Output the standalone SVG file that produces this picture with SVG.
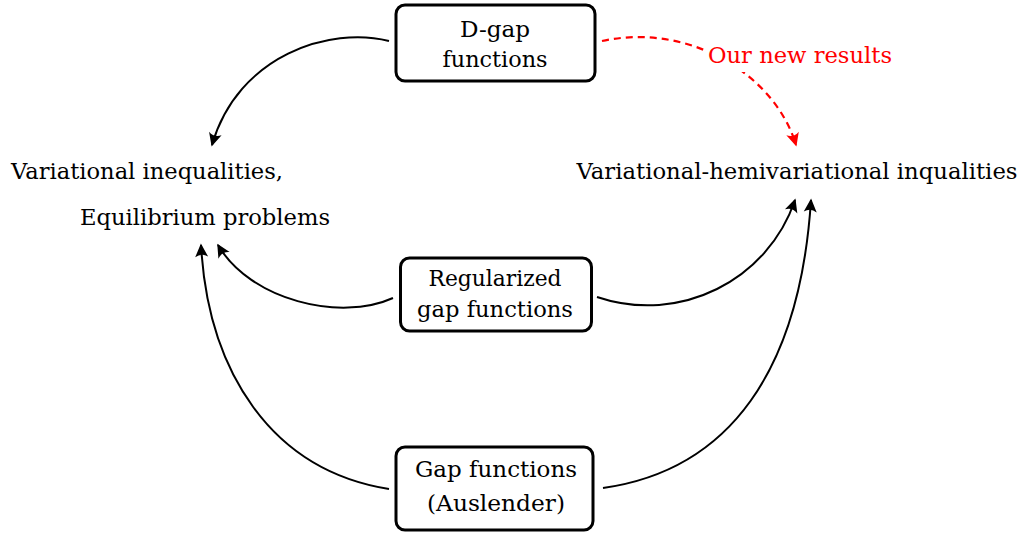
<svg xmlns="http://www.w3.org/2000/svg" width="1027" height="533" viewBox="0 0 1027 533">
<style>
text{font-family:'DejaVu Serif','Liberation Serif',serif;font-size:22px;fill:#000;text-anchor:middle}
.red{fill:#ff0000}
.box{fill:#fff;stroke:#000;stroke-width:3}
.con{fill:none;stroke:#000;stroke-width:2}
.dash{fill:none;stroke:#ff0000;stroke-width:2.2;stroke-dasharray:7 5}
</style>
<defs>
<marker id="ah" markerUnits="userSpaceOnUse" markerWidth="20" markerHeight="20" viewBox="-16 -10 20 20" refX="0" refY="0" orient="auto">
<path d="M1.5,0 L-12,-6.5 Q-7.5,0 -12,6.5 Z" fill="#000"/>
</marker>
<marker id="ahr" markerUnits="userSpaceOnUse" markerWidth="20" markerHeight="20" viewBox="-16 -10 20 20" refX="0" refY="0" orient="auto">
<path d="M1.5,0 L-12,-6.5 Q-7.5,0 -12,6.5 Z" fill="#ff0000"/>
</marker>
</defs>
<g id="connectors">
<path class="con" d="M389,41 C330,26 238,55 212,145" marker-end="url(#ah)"/>
<path class="con" d="M393,298 C340,322 250,300 218,245" marker-end="url(#ah)"/>
<path class="con" d="M389,489 C270,470 208,370 201,245" marker-end="url(#ah)"/>
<path class="con" d="M597,297 C680,325 768,280 795,200" marker-end="url(#ah)"/>
<path class="con" d="M603,488 C730,470 800,370 811,200" marker-end="url(#ah)"/>
<path class="dash" d="M602,41 C690,22 775,75 796,145" marker-end="url(#ahr)"/>
<rect x="704" y="44" width="192" height="28" fill="#fff"/>
<text class="red" x="800" y="63" textLength="184" lengthAdjust="spacingAndGlyphs">Our new results</text>
</g>
<g id="dgap">
<rect class="box" x="396" y="5" width="199" height="76" rx="9"/>
<text x="495" y="37" textLength="70" lengthAdjust="spacingAndGlyphs">D-gap</text>
<text x="495" y="67" textLength="105" lengthAdjust="spacingAndGlyphs">functions</text>
</g>
<g id="regularized">
<rect class="box" x="400.5" y="258" width="191" height="73" rx="9"/>
<text x="495" y="286" textLength="133" lengthAdjust="spacingAndGlyphs">Regularized</text>
<text x="495" y="317" textLength="156" lengthAdjust="spacingAndGlyphs">gap functions</text>
</g>
<g id="gapfunctions">
<rect class="box" x="396" y="447" width="197" height="83" rx="9"/>
<text x="496" y="477" textLength="162" lengthAdjust="spacingAndGlyphs">Gap functions</text>
<text x="496" y="511" textLength="138" lengthAdjust="spacingAndGlyphs">(Auslender)</text>
</g>
<g id="vi">
<text x="147" y="179" textLength="272" lengthAdjust="spacingAndGlyphs">Variational inequalities,</text>
<text x="205" y="225" textLength="250" lengthAdjust="spacingAndGlyphs">Equilibrium problems</text>
</g>
<g id="vhi">
<text x="797" y="179" textLength="441" lengthAdjust="spacingAndGlyphs">Variational-hemivariational inqualities</text>
</g>
</svg>
